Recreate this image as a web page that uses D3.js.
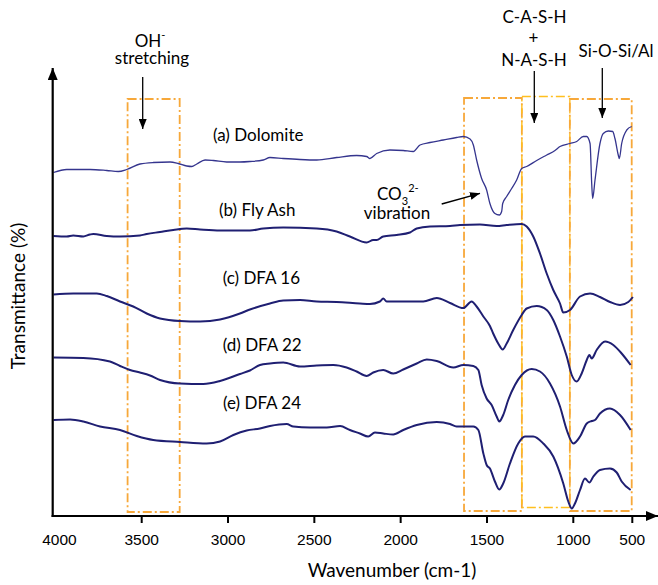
<!DOCTYPE html>
<html>
<head>
<meta charset="utf-8">
<script src="https://cdn.jsdelivr.net/npm/d3@7/dist/d3.min.js"></script>
<style>
  body { margin: 0; background: #fff; }
  svg { display: block; }
</style>
</head>
<body>
<div id="chart"></div>
<script>
/**********************************************************************/
// DATA:
/**********************************************************************/

// Wavenumbers (cm-1) and transmittance (arbitrary, %) for each spectrum
const dolomiteWn = [4000,3925,3793,3698,3633,3585,3510,3433,3336,3288,3239,3210,3181,3133,3085,3008,2931,
  2873,2796,2757,2680,2583,2486,2371,2255,2197,2178,2139,2062,1985,1927,1888,1830,1753,1676,1637,1598,
  1579,1560,1531,1502,1483,1454,1429,1415,1409,1386,1357,1328,1299,1270,1212,1154,1106,1077,1019,971,
  915,886,858,844,836,816,774,746,703,666,647,619,610,590,547,505];
const dolomiteT = [68.7,69.3,69.3,69.1,68.9,69.3,70.4,70.7,70.8,70.5,70.0,69.9,70.4,71.2,71.1,70.8,70.8,
  70.9,71.2,71.7,71.5,71.3,71.2,71.7,72.1,71.9,71.5,72.5,73.2,73.1,72.9,74.2,74.7,75.2,75.7,75.9,75.4,
  74.2,71.2,67.5,65.2,62.5,60.5,60.2,60.9,62.5,63.9,65.5,67.2,69.5,69.9,71.1,72.2,73.1,73.9,74.5,74.9,
  75.9,75.9,74.5,66.5,63.5,67.2,74.5,76.5,77.0,76.9,75.5,72.2,71.5,74.5,77.2,77.9];

const flyAshWn = [4000,3925,3888,3831,3793,3774,3698,3623,3510,3471,3394,3317,3239,3162,3046,2931,2873,
  2796,2680,2486,2371,2294,2197,2159,2139,2101,2023,1946,1907,1830,1714,1656,1541,1444,1386,1299,1270,
  1232,1193,1154,1116,1077,1058,1019,943,858,774,689,604,534,495];
const flyAshT = [56,55.9,56.1,55.9,56.3,56.4,56,55.9,56.1,56.4,56.8,57.2,57.5,57.3,57.1,57.1,57.1,
  57.5,57.7,57.5,56.9,55.9,54.7,55.2,55.2,55.9,56.2,56.7,57.5,57.9,58,58.2,58.3,58,58.2,58.4,57.9,
  55.9,52.5,48.5,45.2,42.5,40.7,41.2,43.9,44.5,43.8,42.8,42.2,42.8,43.8];

const dfa16Wn = [4000,3888,3755,3698,3623,3548,3471,3394,3278,3162,3046,2931,2873,2757,2680,2583,2486,
  2371,2236,2178,2120,2101,2081,2023,1946,1869,1791,1714,1637,1589,1560,1521,1483,1464,1435,1409,1386,
  1348,1299,1270,1212,1154,1116,1077,1038,1009,971,929,886,864,844,802,731,661,590,514];
const dfa16T = [44.3,44.5,44.5,44,42.9,41.9,40.5,39.5,39,38.9,39.3,40.5,41.3,42.5,43.1,43.2,42.9,
  42.8,42.5,42.4,42.9,43.5,42.9,42.9,42.9,42.9,43.6,42.6,41.6,42.9,41.9,39.9,38,36.5,34.5,33.3,34.5,
  37.2,40.2,41.5,42,41.2,39.2,35.9,31.9,28.2,26.9,28.5,31.2,32.2,31.5,33.2,34.9,34.2,32.5,30.2];

const dfa22Wn = [4000,3831,3680,3623,3566,3510,3452,3394,3278,3143,3046,2931,2873,2815,2757,2680,2583,
  2486,2390,2313,2255,2197,2159,2101,2043,1985,1907,1849,1791,1695,1637,1579,1550,1531,1502,1473,1444,
  1429,1406,1377,1338,1299,1241,1193,1135,1077,1038,1000,943,886,844,816,774,689,604,514];
const dfa22T = [31.7,31.6,30.9,30,29.2,28.7,28.1,27.2,26.5,26.4,27,28.4,29.1,30.2,30.5,30.7,29.9,
  30.1,30.2,29.7,28.9,28,28.7,29.2,28.5,29.3,30.5,31.3,31,29.7,30.2,30,29.2,26.2,23.5,22.2,19.9,
  18.9,20.2,23.2,26.2,28.2,29.4,28.9,26.5,21.9,17.2,14.5,15.9,18.5,19,19.2,20.5,21.5,20.2,17.2];

const dfa24Wn = [4000,3906,3831,3736,3623,3528,3433,3278,3124,3046,2969,2892,2815,2757,2660,2622,2525,
  2428,2351,2294,2236,2188,2149,2101,2043,1985,1907,1791,1714,1676,1579,1550,1521,1502,1483,1454,1429,
  1406,1367,1319,1280,1232,1174,1116,1058,1029,1009,986,943,901,864,830,774,689,632,590,514];
const dfa24T = [19.2,19.3,18.9,17.9,17.2,16,15.2,14.8,14.5,14.9,16.2,17.1,17.5,18,18.4,17.9,17.7,
  17.7,18,17.2,16.5,15.9,16.7,16.5,16.3,17.2,18.2,18.8,18.4,17.9,17.9,17.2,12.5,10.2,9.5,6.9,5.3,
  6.5,10.5,14.5,15.9,15.9,14.5,11.9,6.5,2.9,1.5,2.5,5.2,7.5,6.7,7.9,9.2,9.5,8.7,6.9,5.2];

const seriesLabels = ["(a) Dolomite", "(b) Fly Ash", "(c) DFA 16", "(d) DFA 22", "(e) DFA 24"];

// Axis ticks
const tickValues = [4000, 3500, 3000, 2500, 2000, 1500, 1000, 500];

// Highlighted bands (dash-dot boxes)
const bandFrom = [3580, 1633, 1298, 1020];
const bandTo = [3280, 1298, 1020, 505];
const bandTop = [83.4, 83.6, 83.9, 83.4];
const bandBottom = [0.8, 1.0, 1.7, 1.0];

/**********************************************************************/
// CHART DEFINITIONS:
/**********************************************************************/
const svgWidth = 658;
const svgHeight = 585;

// the printed axis is not linear past 1000 cm-1, so use a piecewise scale
const xScale = d3.scaleLinear()
                 .domain([4000, 3500, 1000, 500])
                 .range([53.5, 141.7, 573.3, 632.3]);

const yScale = d3.scaleLinear()
                 .domain([0, 89.6])
                 .range([516, 68]);

const svg = d3.select('#chart')
              .append('svg')
              .attr('width', svgWidth)
              .attr('height', svgHeight);

// arrow heads
const defs = svg.append('defs');
defs.append('marker')
    .attr('id', 'axisHead')
    .attr('viewBox', '0 0 12 10')
    .attr('refX', 12).attr('refY', 5)
    .attr('markerWidth', 12).attr('markerHeight', 10)
    .attr('markerUnits', 'userSpaceOnUse')
    .attr('orient', 'auto')
    .append('path').attr('d', 'M0,0 L12,5 L0,10 Z').attr('fill', '#000');
defs.append('marker')
    .attr('id', 'noteHead')
    .attr('viewBox', '0 0 10 8')
    .attr('refX', 10).attr('refY', 4)
    .attr('markerWidth', 10).attr('markerHeight', 8)
    .attr('markerUnits', 'userSpaceOnUse')
    .attr('orient', 'auto')
    .append('path').attr('d', 'M0,0 L10,4 L0,8 Z').attr('fill', '#000');

/**********************************************************************/
// Bands:
/**********************************************************************/
const bandGroup = svg.append('g');
bandFrom.forEach(function(f, i) {
    const mid = i === 2;
    bandGroup.append('rect')
             .attr('x', xScale(f))
             .attr('y', yScale(bandTop[i]))
             .attr('width', xScale(bandTo[i]) - xScale(f))
             .attr('height', yScale(bandBottom[i]) - yScale(bandTop[i]))
             .attr('fill', 'none')
             .attr('stroke', mid ? '#ffbf1f' : '#f7a83a')
             .attr('stroke-width', mid ? 1.4 : 1.8)
             .attr('stroke-dasharray', '9,3,2,3');
});

/**********************************************************************/
// Spectra:
/**********************************************************************/
const spectra = [
    { wn: dolomiteWn, t: dolomiteT },
    { wn: flyAshWn, t: flyAshT },
    { wn: dfa16Wn, t: dfa16T },
    { wn: dfa22Wn, t: dfa22T },
    { wn: dfa24Wn, t: dfa24T }
];

const line = d3.line()
               .x(d => xScale(d[0]))
               .y(d => yScale(d[1]))
               .curve(d3.curveMonotoneX);

spectra.forEach(function(s, i) {
    const pts = s.wn.map((w, k) => [w, s.t[k]]);
    svg.append('path')
       .datum(pts)
       .attr('d', line)
       .attr('fill', 'none')
       .attr('stroke', i === 0 ? '#35358e' : '#1f1f72')
       .attr('stroke-width', i === 0 ? 1.3 : 2)
       .attr('stroke-linejoin', 'round');
});

/**********************************************************************/
// Axes:
/**********************************************************************/
svg.append('line')
   .attr('x1', 52.7).attr('y1', 517)
   .attr('x2', 52.7).attr('y2', 68)
   .attr('stroke', '#000').attr('stroke-width', 2.2)
   .attr('marker-end', 'url(#axisHead)');
svg.append('line')
   .attr('x1', 51.6).attr('y1', 516)
   .attr('x2', 658).attr('y2', 516)
   .attr('stroke', '#000').attr('stroke-width', 2.2)
   .attr('marker-end', 'url(#axisHead)');

const tickGroup = svg.append('g');
tickValues.forEach(function(v) {
    const x = xScale(v);
    if (v !== 4000) {
        tickGroup.append('line')
                 .attr('x1', x).attr('x2', x)
                 .attr('y1', 517).attr('y2', 523)
                 .attr('stroke', '#000').attr('stroke-width', 2);
    }
    tickGroup.append('text')
             .attr('x', v === 4000 ? x + 6 : x)
             .attr('y', 545)
             .attr('text-anchor', 'middle')
             .attr('font-family', '"Liberation Sans", Arial, sans-serif')
             .attr('font-size', 15.5)
             .text(v);
});

svg.append('text')
   .attr('x', 392).attr('y', 577)
   .attr('text-anchor', 'middle')
   .attr('font-family', 'Lato, sans-serif')
   .attr('font-size', 19)
   .text('Wavenumber (cm-1)');

svg.append('text')
   .attr('transform', 'translate(25,296) rotate(-90)')
   .attr('text-anchor', 'middle')
   .attr('font-family', 'Lato, sans-serif')
   .attr('font-size', 19)
   .text('Transmittance (%)');

/**********************************************************************/
// Labels and notes:
/**********************************************************************/
const labelX = [213, 219, 222.7, 222.7, 223];
const labelY = [141, 216, 284, 350.7, 409];
seriesLabels.forEach(function(lbl, i) {
    svg.append('text')
       .attr('x', labelX[i]).attr('y', labelY[i])
       .attr('font-family', 'Lato, sans-serif')
       .attr('font-size', 17)
       .text(lbl);
});

const note = svg.append('g')
                .attr('font-family', 'Lato, sans-serif')
                .attr('font-size', 17)
                .attr('text-anchor', 'middle');

// OH- stretching
const oh = note.append('text').attr('x', 150).attr('y', 47);
oh.append('tspan').text('OH');
oh.append('tspan').attr('dy', -8).attr('font-size', 11).text('-');
note.append('text').attr('x', 152).attr('y', 64).text('stretching');
svg.append('line')
   .attr('x1', 142.7).attr('y1', 77).attr('x2', 142.7).attr('y2', 129)
   .attr('stroke', '#000').attr('stroke-width', 1.3)
   .attr('marker-end', 'url(#noteHead)');

// CO3 2- vibration
const co = note.append('text').attr('x', 377).attr('y', 200).attr('text-anchor', 'start');
co.append('tspan').text('CO');
co.append('tspan').attr('dy', 5).attr('font-size', 11).text('3');
co.append('tspan').attr('dy', -13).attr('font-size', 11).text('2-');
note.append('text').attr('x', 397).attr('y', 219).text('vibration');
svg.append('line')
   .attr('x1', 441.7).attr('y1', 204).attr('x2', 480).attr('y2', 193.3)
   .attr('stroke', '#000').attr('stroke-width', 1.3)
   .attr('marker-end', 'url(#noteHead)');

// C-A-S-H + N-A-S-H
note.append('text').attr('x', 534.5).attr('y', 23).text('C-A-S-H');
note.append('text').attr('x', 533.5).attr('y', 44).text('+');
note.append('text').attr('x', 534).attr('y', 66).text('N-A-S-H');
svg.append('line')
   .attr('x1', 534.3).attr('y1', 71).attr('x2', 534.3).attr('y2', 123)
   .attr('stroke', '#000').attr('stroke-width', 1.3)
   .attr('marker-end', 'url(#noteHead)');

// Si-O-Si/Al
note.append('text').attr('x', 616).attr('y', 57).text('Si-O-Si/Al');
svg.append('line')
   .attr('x1', 602.3).attr('y1', 68).attr('x2', 602.3).attr('y2', 118)
   .attr('stroke', '#000').attr('stroke-width', 1.3)
   .attr('marker-end', 'url(#noteHead)');
</script>
</body>
</html>
